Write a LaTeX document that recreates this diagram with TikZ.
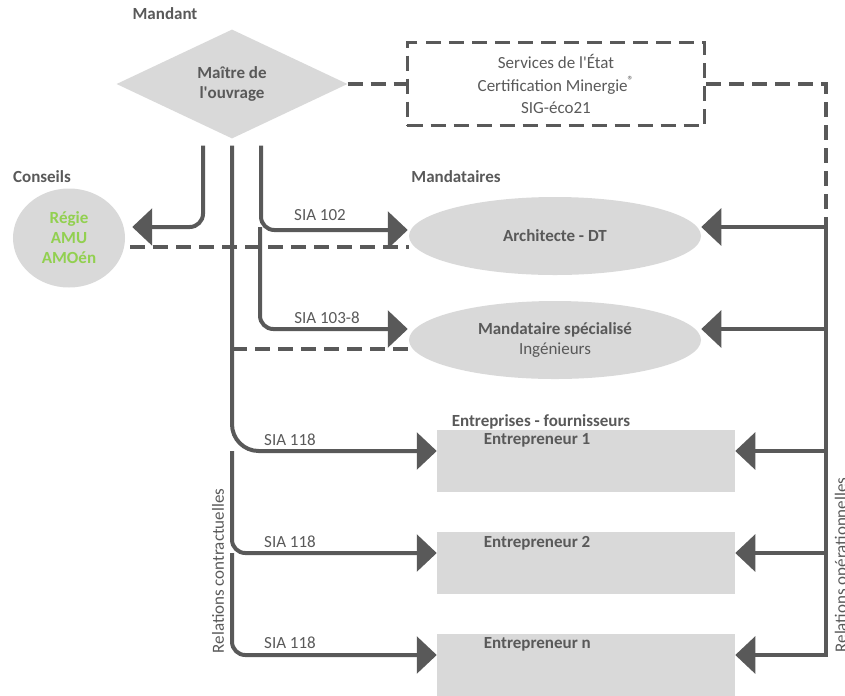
\documentclass[tikz,border=0pt]{standalone}
\usepackage{fontspec}
\setmainfont{Carlito}
\usetikzlibrary{positioning, shapes.geometric, arrows.meta}
\definecolor{ink}{HTML}{595959}
\definecolor{pale}{HTML}{D9D9D9}
\definecolor{leaf}{HTML}{92D050}

\begin{document}
\begin{tikzpicture}[x=0.03cm, y=0.03cm, node distance=3.06cm, on grid,
    every node/.style={font=\fontsize{14.5pt}{17pt}\selectfont, text=ink},
    title/.style={font=\fontsize{14.5pt}{17pt}\selectfont\bfseries},
    role/.style={ellipse, fill=pale, minimum width=8.76cm, minimum height=2.34cm, inner sep=0pt, align=center},
    firm/.style={rectangle, fill=pale, minimum width=8.94cm, minimum height=1.86cm},
    link/.style={draw=ink, line width=0.12cm, rounded corners=0.4cm},
    arr/.style={link, -{Triangle[length=0.6cm, width=1.1cm]}},
    loose/.style={draw=ink, line width=0.1cm, dash pattern=on 0.45cm off 0.24cm}]
  \useasboundingbox (0,0) rectangle (845,-695);

  % parties
  \node[diamond, fill=pale, minimum width=6.93cm, minimum height=3.27cm, inner sep=0pt, align=center, title] (mo) at (232,-84) {Maître de\\l\textquotesingle ouvrage};
  \node[loose, rectangle, minimum width=8.91cm, minimum height=2.49cm, align=center, font=\fontsize{14.5pt}{19pt}\selectfont] (svc) at (556,-84) {Services de l\textquotesingle État\\Certification Minergie\textsuperscript{®}\\SIG-éco21};
  \node[ellipse, fill=pale, minimum width=3.36cm, minimum height=2.97cm, inner sep=0pt, align=center, title, text=leaf] (con) at (69,-238) {Régie\\AMU\\AMOén};
  \node[role, title] (arch) at (555,-236) {Architecte - DT};
  \node[role] (mand) [below=3.12cm of arch] {\textbf{Mandataire spécialisé}\\Ingénieurs};
  \node[firm] (e1) at (586,-461) {};
  \node[firm] (e2) [below=of e1] {};
  \node[firm] (en) [below=of e2] {};
  \foreach \e/\t in {e1/1, e2/2, en/n}
    \node[title, anchor=west] (\e-t) at ([shift={(43,-11)}]\e.north west) {Entrepreneur \t};

  % headings
  \node[title] (mandant) at (165,-14) {Mandant};
  \node[title] (conseils) at (42,-177) {Conseils};
  \node[title] (mdt) at (456,-177) {Mandataires};
  \node[title] (ent) at (541,-422) {Entreprises - fournisseurs};
  \node[rotate=90] (rc) at (218,-571) {Relations contractuelles};
  \node[rotate=90] (ro) at (842,-565) {Relations opérationnelles};

  % contracts
  \coordinate (s1) at ([shift={(-29,-7)}]mo.south);
  \coordinate (s2) at ([shift={(0,-7)}]mo.south);
  \coordinate (s3) at ([shift={(29,-7)}]mo.south);
  \coordinate (d0) at (260,-227);
  \draw[arr] (s1) |- ([shift={(7,11)}]con.east);
  \draw[arr] (s3) |- ([shift={(-1,6)}]arch.west);
  \draw[arr] (d0) |- ([shift={(-1,11)}]mand.west);
  \draw[arr, rounded corners=0.8cm] (s2) |- ([yshift=0.3cm]e1.west);
  \foreach \a/\b in {e1/e2, e2/en}
    \draw[arr] ([yshift=0.3cm]\a.west -| s2) |- ([yshift=0.3cm]\b.west);
  \node (sia1) at (320,-215) {SIA 102};
  \node (sia2) at (327,-318) {SIA 103-8};
  \foreach \y [count=\i] in {-440,-542,-643}
    \node (sia\i-e) at (290,\y) {SIA 118};

  % side links
  \coordinate (k1) at ([shift={(5,-9)}]con.east);
  \draw[loose] (k1) -- (k1 -| arch.west);
  \draw[loose] ([yshift=-0.27cm]mand.west -| s2) -- ([yshift=-0.27cm]mand.west);
  \draw[loose] (mo) -- (svc);

  % operations
  \coordinate (r0) at (826,-227);
  \draw[loose] (svc.east) -| (r0);
  \draw[arr, sharp corners] (r0) |- ([yshift=0.3cm]en.east);
  \draw[arr] (r0) -- (r0 -| arch.east);
  \foreach \n/\s in {mand/0.33cm, e1/0.3cm, e2/0.3cm}
    \draw[arr] ([yshift=\s]\n.east -| r0) -- ([yshift=\s]\n.east);
\end{tikzpicture}
\end{document}
